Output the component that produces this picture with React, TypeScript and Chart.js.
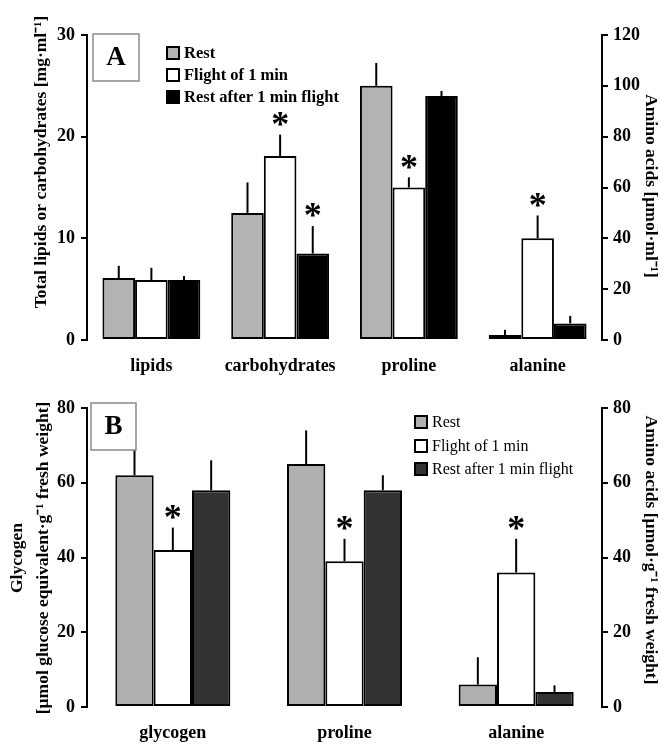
import React, { useEffect, useRef } from "react";
import { Chart, registerables } from "chart.js";

Chart.register(...registerables);

const SERIF = '"Liberation Serif", "Times New Roman", Times, serif';

// ---------- Shared ----------
const SERIES = ["Rest", "Flight of 1 min", "Rest after 1 min flight"];

// ---------- Panel A ----------
const A_CATEGORIES = ["lipids", "carbohydrates", "proline", "alanine"];
// lipids & carbohydrates on left axis [mg·ml-1]; proline & alanine on right axis [µmol·ml-1]
const A_AXIS = ["left", "left", "right", "right"];
const A_REST = [6.1, 12.5, 100, 2];
const A_FLIGHT = [5.9, 18.1, 60, 40];
const A_AFTER = [5.9, 8.5, 96, 6.5];
const A_REST_ERR = [1.2, 3.0, 9, 2];
const A_FLIGHT_ERR = [1.2, 2.1, 4, 9];
const A_AFTER_ERR = [0.4, 2.7, 2, 3];
const A_REST_STAR = [false, false, false, false];
const A_FLIGHT_STAR = [false, true, true, true];
const A_AFTER_STAR = [false, true, false, false];
const A_LEFT_TICKS = [0, 10, 20, 30];
const A_RIGHT_TICKS = [0, 20, 40, 60, 80, 100, 120];

// ---------- Panel B ----------
const B_CATEGORIES = ["glycogen", "proline", "alanine"];
const B_AXIS = ["left", "right", "right"];
const B_REST = [62, 65, 6];
const B_FLIGHT = [42, 39, 36];
const B_AFTER = [58, 58, 4];
const B_REST_ERR = [8, 9, 7.3];
const B_FLIGHT_ERR = [6, 6, 9];
const B_AFTER_ERR = [8, 4, 1.8];
const B_REST_STAR = [false, false, false];
const B_FLIGHT_STAR = [true, true, true];
const B_AFTER_STAR = [false, false, false];
const B_LEFT_TICKS = [0, 20, 40, 60, 80];
const B_RIGHT_TICKS = [0, 20, 40, 60, 80];

type PanelCfg = {
  categories: string[];
  axisOf: string[];
  values: number[][];
  errors: number[][];
  stars: boolean[][];
  colors: string[];
  leftTicks: number[];
  rightTicks: number[];
  padTop: number;
  xAxisHeight: number;
  labelPad: number;
  catPct: number;
  letter: string;
  box: number[];
  legendX: number;
  legendYs: number[];
  legendFont: string;
  leftTitleLines: string[];
  leftTitleXs: number[];
  leftTitleY: number;
  rightTitle: string;
  rightTitleX: number;
  rightTitleY: number;
};

const TITLE_FONT = `bold 17.5px ${SERIF}`;

function makeDecor(cfg: PanelCfg) {
  return {
    id: "decor",
    afterDatasetsDraw(chart: any) {
      const ctx = chart.ctx;
      ctx.save();
      // error bars + significance stars
      chart.data.datasets.forEach((ds: any, i: number) => {
        const meta = chart.getDatasetMeta(i);
        const sc = chart.scales[meta.yAxisID];
        ds.data.forEach((v: any, j: number) => {
          if (v == null) return;
          const bar = meta.data[j];
          const top = sc.getPixelForValue(v + ds.errs[j]);
          ctx.strokeStyle = "#000";
          ctx.lineWidth = 2;
          ctx.beginPath();
          ctx.moveTo(bar.x, bar.y);
          ctx.lineTo(bar.x, top);
          ctx.stroke();
          if (ds.stars[j]) {
            ctx.font = `bold 36px ${SERIF}`;
            ctx.textAlign = "center";
            ctx.textBaseline = "middle";
            ctx.fillStyle = "#000";
            ctx.fillText("*", bar.x, top - 8);
          }
        });
      });
      // panel letter box
      const [bx, by, bw, bh] = cfg.box;
      ctx.fillStyle = "#fff";
      ctx.fillRect(bx, by, bw, bh);
      ctx.strokeStyle = "#8a8a8a";
      ctx.lineWidth = 1.5;
      ctx.strokeRect(bx, by, bw, bh);
      ctx.fillStyle = "#000";
      ctx.font = `bold 27px ${SERIF}`;
      ctx.textAlign = "center";
      ctx.textBaseline = "middle";
      ctx.fillText(cfg.letter, bx + bw / 2, by + bh / 2 + 1);
      // legend
      SERIES.forEach((name, k) => {
        const y = cfg.legendYs[k];
        ctx.fillStyle = cfg.colors[k];
        ctx.fillRect(cfg.legendX, y - 6, 12, 12);
        ctx.strokeStyle = "#000";
        ctx.lineWidth = 2;
        ctx.strokeRect(cfg.legendX, y - 6, 12, 12);
        ctx.fillStyle = "#000";
        ctx.font = cfg.legendFont;
        ctx.textAlign = "left";
        ctx.textBaseline = "middle";
        ctx.fillText(name, cfg.legendX + 17, y + 1);
      });
      // axis titles
      ctx.font = TITLE_FONT;
      ctx.textAlign = "center";
      ctx.textBaseline = "middle";
      cfg.leftTitleLines.forEach((line, k) => {
        ctx.save();
        ctx.translate(cfg.leftTitleXs[k], cfg.leftTitleY);
        ctx.rotate(-Math.PI / 2);
        ctx.fillText(line, 0, 0);
        ctx.restore();
      });
      ctx.save();
      ctx.translate(cfg.rightTitleX, cfg.rightTitleY);
      ctx.rotate(Math.PI / 2);
      ctx.fillText(cfg.rightTitle, 0, 0);
      ctx.restore();
      ctx.restore();
    },
  };
}

function buildDatasets(cfg: PanelCfg) {
  const out: any[] = [];
  SERIES.forEach((name, s) => {
    ["left", "right"].forEach((side) => {
      out.push({
        label: name,
        stack: name,
        yAxisID: side === "left" ? "yL" : "yR",
        data: cfg.values[s].map((v, j) => (cfg.axisOf[j] === side ? v : null)),
        errs: cfg.errors[s],
        stars: cfg.stars[s],
        backgroundColor: cfg.colors[s],
        borderColor: "#000",
        borderWidth: 2,
        borderSkipped: false,
      });
    });
  });
  return out;
}

function yAxis(position: string, ticksArr: number[], width: number, pad: number) {
  return {
    position,
    min: ticksArr[0],
    max: ticksArr[ticksArr.length - 1],
    afterBuildTicks: (s: any) => {
      s.ticks = ticksArr.map((v) => ({ value: v }));
    },
    ticks: {
      color: "#000",
      padding: pad,
      font: { family: SERIF, size: 18, weight: "bold" },
    },
    grid: { drawOnChartArea: false, drawTicks: true, tickLength: 6, color: "#000", lineWidth: 2 },
    border: { display: true, color: "#000", width: 2 },
    afterFit: (s: any) => {
      s.width = width;
    },
  };
}

function Panel({ cfg, width, height }: { cfg: PanelCfg; width: number; height: number }) {
  const ref = useRef<HTMLCanvasElement>(null);
  useEffect(() => {
    if (!ref.current) return;
    const chart = new Chart(ref.current, {
      type: "bar",
      data: { labels: cfg.categories, datasets: buildDatasets(cfg) },
      options: {
        responsive: false,
        animation: false,
        devicePixelRatio: 1,
        layout: { padding: { top: cfg.padTop, left: 0, right: 0, bottom: 0 } },
        datasets: { bar: { categoryPercentage: cfg.catPct, barPercentage: 1 } },
        plugins: { legend: { display: false }, tooltip: { enabled: false }, title: { display: false } },
        scales: {
          x: {
            grid: { display: false, drawTicks: false },
            border: { display: false },
            ticks: {
              color: "#000",
              padding: cfg.labelPad,
              autoSkip: false,
              maxRotation: 0,
              font: { family: SERIF, size: 18, weight: "bold" },
            },
            afterFit: (s: any) => {
              s.height = cfg.xAxisHeight;
            },
          },
          yL: yAxis("left", cfg.leftTicks, 87, 6),
          yR: yAxis("right", cfg.rightTicks, 59, 5),
        },
      } as any,
      plugins: [makeDecor(cfg)],
    });
    return () => chart.destroy();
  }, []);
  return <canvas ref={ref} width={width} height={height} style={{ display: "block", width, height }} />;
}

const CFG_A: PanelCfg = {
  categories: A_CATEGORIES,
  axisOf: A_AXIS,
  values: [A_REST, A_FLIGHT, A_AFTER],
  errors: [A_REST_ERR, A_FLIGHT_ERR, A_AFTER_ERR],
  stars: [A_REST_STAR, A_FLIGHT_STAR, A_AFTER_STAR],
  colors: ["#b3b3b3", "#ffffff", "#000000"],
  leftTicks: A_LEFT_TICKS,
  rightTicks: A_RIGHT_TICKS,
  padTop: 35,
  xAxisHeight: 40,
  labelPad: 16,
  catPct: 0.76,
  letter: "A",
  box: [93, 34, 46, 47],
  legendX: 167,
  legendYs: [53, 75, 97],
  legendFont: `bold 16.5px ${SERIF}`,
  leftTitleLines: ["Total lipids or carbohydrates [mg·ml⁻¹]"],
  leftTitleXs: [41],
  leftTitleY: 162,
  rightTitle: "Amino acids [µmol·ml⁻¹]",
  rightTitleX: 651,
  rightTitleY: 186,
};

const CFG_B: PanelCfg = {
  categories: B_CATEGORIES,
  axisOf: B_AXIS,
  values: [B_REST, B_FLIGHT, B_AFTER],
  errors: [B_REST_ERR, B_FLIGHT_ERR, B_AFTER_ERR],
  stars: [B_REST_STAR, B_FLIGHT_STAR, B_AFTER_STAR],
  colors: ["#b0b0b0", "#ffffff", "#333333"],
  leftTicks: B_LEFT_TICKS,
  rightTicks: B_RIGHT_TICKS,
  padTop: 28,
  xAxisHeight: 38,
  labelPad: 16,
  catPct: 0.67,
  letter: "B",
  box: [91, 23, 45, 47],
  legendX: 415,
  legendYs: [42, 66, 89],
  legendFont: `16px ${SERIF}`,
  leftTitleLines: ["Glycogen", "[µmol glucose equivalent·g⁻¹ fresh weight]"],
  leftTitleXs: [17, 43],
  leftTitleY: 178,
  rightTitle: "Amino acids [µmol·g⁻¹ fresh weight]",
  rightTitleX: 651,
  rightTitleY: 170,
};

export default function App() {
  return (
    <div style={{ position: "absolute", left: 0, top: 0, width: 661, height: 745, background: "#fff" }}>
      <Panel cfg={CFG_A} width={661} height={380} />
      <Panel cfg={CFG_B} width={661} height={365} />
    </div>
  );
}
